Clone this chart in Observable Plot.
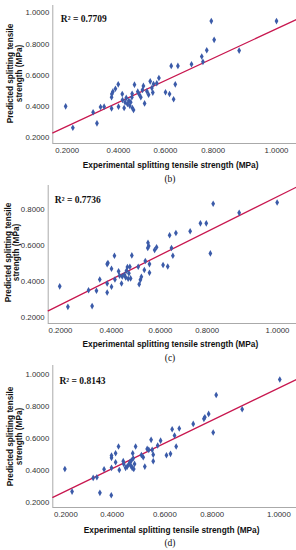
<!DOCTYPE html>
<html><head><meta charset="utf-8">
<script src="https://cdn.jsdelivr.net/npm/d3@7"></script>
<script src="https://cdn.jsdelivr.net/npm/@observablehq/plot@0.6"></script>
<style>
body{margin:0;background:#fff;}
#wrap{position:relative;width:296px;height:550px;overflow:hidden;background:#fff;}
.panel{position:absolute;left:0;}
.cap{position:absolute;width:40px;text-align:center;font-family:"Liberation Serif","Times New Roman",serif;font-size:9.5px;line-height:12px;color:#111;}
</style></head><body><div id="wrap"></div>
<script>
// ---- data ----
const xTicks = [0.2, 0.4, 0.6, 0.8, 1.0];
const yTicksB = [0.2, 0.4, 0.6, 0.8, 1.0];
const yTicksC = [0.2, 0.4, 0.6, 0.8];
const yTicksD = [0.2, 0.4, 0.6, 0.8, 1.0];
const xTitle = "Experimental splitting tensile strength (MPa)";
const yTitle1 = "Predicted splitting tensile";
const yTitle2 = "strength (MPa)";
const r2Labels = ["R\u00B2 = 0.7709", "R\u00B2 = 0.7736", "R\u00B2 = 0.8143"];
const captions = ["(b)", "(c)", "(d)"];

const expB = [0.194,0.222,0.301,0.316,0.330,0.344,0.373,0.373,0.374,0.378,0.388,0.399,0.400,0.416,0.417,0.424,0.428,0.433,0.438,0.444,0.448,0.452,0.457,0.459,0.464,0.458,0.468,0.482,0.489,0.495,0.502,0.506,0.511,0.521,0.528,0.535,0.542,0.546,0.549,0.563,0.572,0.600,0.617,0.634,0.641,0.624,0.652,0.709,0.752,0.757,0.773,0.792,0.803,0.882,1.000];
const predB = [0.401,0.264,0.363,0.292,0.397,0.399,0.388,0.459,0.480,0.495,0.514,0.542,0.399,0.480,0.442,0.390,0.427,0.455,0.416,0.437,0.405,0.427,0.459,0.390,0.378,0.482,0.540,0.495,0.476,0.459,0.506,0.532,0.420,0.497,0.476,0.561,0.519,0.489,0.544,0.549,0.583,0.491,0.480,0.446,0.542,0.660,0.660,0.671,0.720,0.686,0.760,0.947,0.827,0.758,0.947];

const expC = [0.197,0.229,0.310,0.324,0.341,0.354,0.383,0.383,0.383,0.386,0.400,0.400,0.412,0.414,0.429,0.433,0.441,0.444,0.453,0.458,0.461,0.465,0.468,0.471,0.475,0.478,0.483,0.509,0.513,0.518,0.522,0.534,0.538,0.548,0.549,0.552,0.555,0.555,0.576,0.584,0.611,0.631,0.639,0.647,0.653,0.666,0.727,0.771,0.796,0.809,0.817,0.891,0.999];
const predC = [0.374,0.261,0.353,0.265,0.350,0.412,0.340,0.390,0.497,0.503,0.372,0.471,0.543,0.412,0.457,0.433,0.390,0.429,0.438,0.423,0.460,0.481,0.416,0.446,0.482,0.418,0.545,0.482,0.386,0.410,0.427,0.464,0.514,0.586,0.615,0.597,0.497,0.449,0.575,0.590,0.492,0.484,0.656,0.586,0.543,0.669,0.678,0.722,0.722,0.556,0.830,0.780,0.837];

const expD = [0.196,0.227,0.318,0.334,0.347,0.365,0.397,0.397,0.397,0.396,0.413,0.413,0.424,0.427,0.442,0.444,0.451,0.457,0.463,0.467,0.471,0.473,0.476,0.478,0.480,0.482,0.485,0.489,0.511,0.518,0.524,0.533,0.539,0.548,0.552,0.556,0.556,0.573,0.584,0.607,0.624,0.631,0.641,0.648,0.661,0.720,0.765,0.769,0.785,0.803,0.812,0.890,1.003];
const predD = [0.409,0.267,0.353,0.357,0.259,0.407,0.479,0.493,0.416,0.244,0.508,0.451,0.550,0.403,0.458,0.441,0.416,0.424,0.437,0.451,0.430,0.462,0.416,0.508,0.476,0.409,0.441,0.550,0.497,0.483,0.424,0.535,0.529,0.592,0.529,0.499,0.458,0.556,0.587,0.495,0.504,0.659,0.619,0.550,0.663,0.692,0.724,0.734,0.755,0.638,0.874,0.784,0.971];

// fitted regression lines (end points read at the frame edges)
const fitXB = [0.144, 1.063], fitYB = [0.231, 0.957];
const fitXC = [0.152, 1.054], fitYC = [0.239, 0.922];
const fitXD = [0.144, 1.053], fitYD = [0.231, 0.971];

// ---- layout ----
const layouts = [
  {top:0,   height:172, mt:5, mb:29, ml:52.3, xLo:0.144, xHi:1.063, xPx:[66.7,118,165,212.7,276], yDom:[0.163,1.047], r2dx:8,   r2dy:13, xtDx:-4, xtDy:22, yt1:10,  yt2:19, ytDy:-1, capY:179},
  {top:182, height:170, mt:3, mb:29, ml:47.7, xLo:0.152, xHi:1.054, xPx:[60,111,160,206.7,277],    yDom:[0.169,0.931], r2dx:6.6, r2dy:14, xtDx:-2, xtDy:21, yt1:7.5, yt2:16, ytDy:-2, capY:358},
  {top:362, height:173, mt:3, mb:28, ml:52.3, xLo:0.144, xHi:1.053, xPx:[65.3,111.7,164.3,211.7,278.3], yDom:[0.167,1.059], r2dx:6.7, r2dy:15, xtDx:-3, xtDy:23, yt1:9.5, yt2:18.5, ytDy:0, capY:543}
];
const series = [
  {exp:expB, pred:predB, yTicks:yTicksB, fitX:fitXB, fitY:fitYB},
  {exp:expC, pred:predC, yTicks:yTicksC, fitX:fitXC, fitY:fitYC},
  {exp:expD, pred:predD, yTicks:yTicksD, fitX:fitXD, fitY:fitYD}
];

const tallDiamond = {draw(ctx){ const w=1.9, h=3.3; ctx.moveTo(0,-h); ctx.lineTo(w,0); ctx.lineTo(0,h); ctx.lineTo(-w,0); ctx.closePath(); }};
const fmt = d3.format(".4f");
const wrap = document.getElementById("wrap");
const W = 296;

series.forEach((s, i) => {
  const L = layouts[i];
  const rows = s.exp.map((e, k) => ({x: e, y: s.pred[k]}));
  const fit = s.fitX.map((x, k) => ({x, y: s.fitY[k]}));
  const yTitleStyle = {text: d => d, frameAnchor: "left", textAnchor: "middle", lineAnchor: "middle", rotate: -90, dy: L.ytDy, fontWeight: "bold", fontSize: 8.2, fill: "#111"};
  const chart = Plot.plot({
    width: W, height: L.height,
    marginTop: L.mt, marginBottom: L.mb, marginLeft: L.ml, marginRight: 0,
    style: {fontFamily: "'Liberation Sans', Arial, sans-serif", fontSize: "7.8px", color: "#333", background: "transparent", overflow: "visible"},
    x: {type: "linear", domain: [L.xLo, ...xTicks, L.xHi], range: [L.ml, ...L.xPx, W], ticks: xTicks, tickFormat: fmt, tickSize: 0, tickPadding: 4, label: null},
    y: {type: "linear", domain: L.yDom, ticks: s.yTicks, tickFormat: fmt, tickSize: 0, tickPadding: 3.5, label: null},
    marks: [
      Plot.ruleY([L.yDom[0]], {stroke: "#aaa", strokeWidth: 1}),
      Plot.ruleX([L.xLo], {stroke: "#aaa", strokeWidth: 1}),
      Plot.line(fit, {x: "x", y: "y", stroke: "#c8174f", strokeWidth: 1.3}),
      Plot.dot(rows, {x: "x", y: "y", symbol: tallDiamond, fill: "#3b5ba9", stroke: "none", r: 3}),
      Plot.text([r2Labels[i]], {text: d => d, frameAnchor: "top-left", textAnchor: "start", lineAnchor: "middle", dx: L.r2dx, dy: L.r2dy, fontFamily: "'Liberation Serif', 'Times New Roman', serif", fontWeight: "bold", fontSize: 9.5, fill: "#111"}),
      Plot.text([xTitle], {text: d => d, frameAnchor: "bottom", lineAnchor: "middle", dx: L.xtDx, dy: L.xtDy, fontWeight: "bold", fontSize: 8.3, fill: "#111"}),
      Plot.text([yTitle1], {...yTitleStyle, dx: L.yt1 - L.ml}),
      Plot.text([yTitle2], {...yTitleStyle, dx: L.yt2 - L.ml})
    ]
  });
  chart.classList.add("panel");
  chart.style.top = L.top + "px";
  wrap.appendChild(chart);
  const cap = document.createElement("div");
  cap.className = "cap";
  cap.textContent = captions[i];
  cap.style.left = "150px";
  cap.style.top = (L.capY - 6) + "px";
  wrap.appendChild(cap);
});
</script>
</body></html>
